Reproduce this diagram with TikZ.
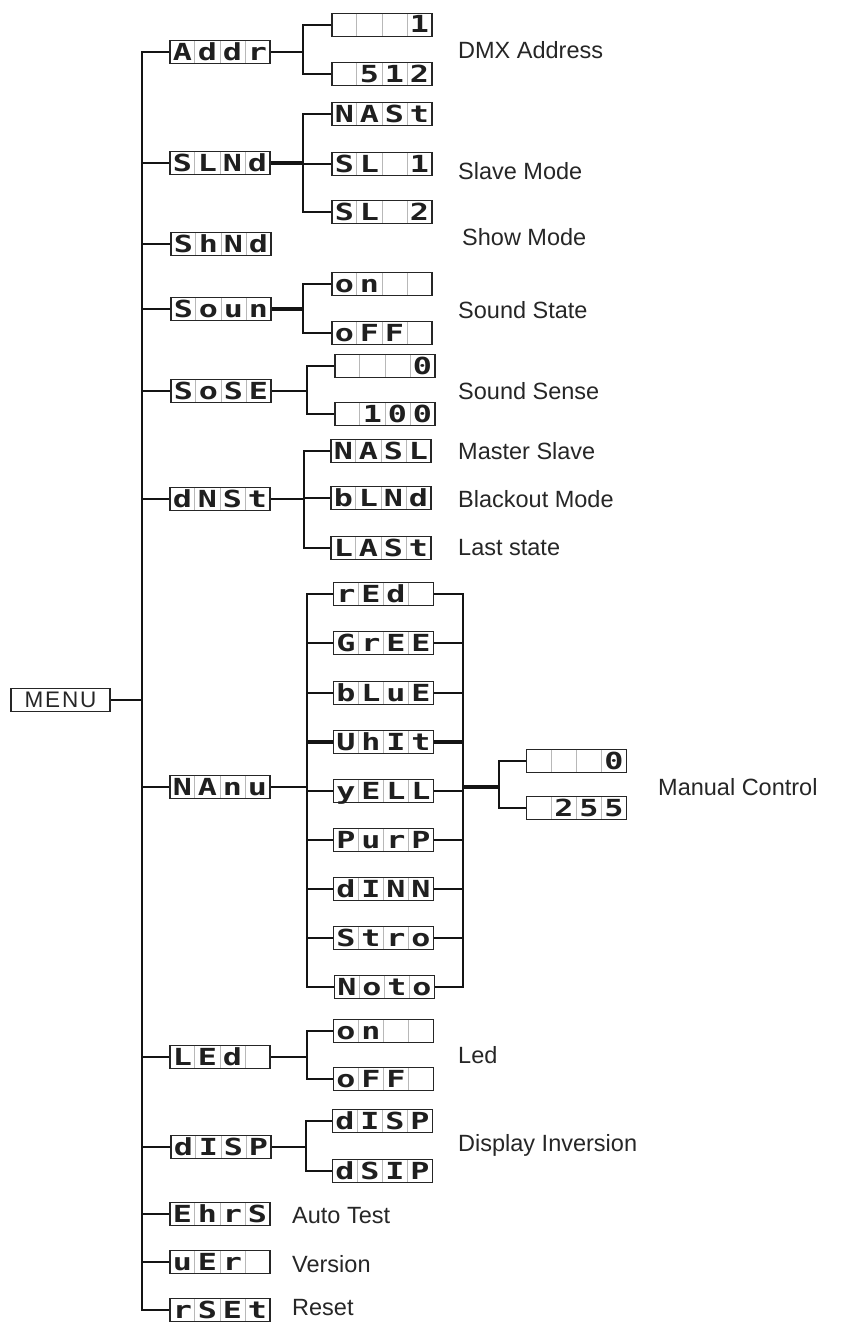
\documentclass[tikz,border=0pt]{standalone}
\usepackage{fontspec}
\setmainfont{Liberation Sans}
\newfontfamily\segfont{DejaVu Sans Mono}
\usetikzlibrary{calc}
\tikzset{
  disp/.style={draw=black!85, line width=1.3pt, minimum width=100pt, inner sep=0pt, fill=white,
    text height=19.5pt, text depth=3.5pt, text=black!88, font=\segfont\bfseries\fontsize{23.5}{23.5}\selectfont},
  menubox/.style={draw=black!85, line width=1.3pt, minimum width=99pt, minimum height=23pt, inner sep=0pt,
    font=\fontsize{22.5}{22.5}\selectfont\addfontfeature{LetterSpace=8}, text=black!85},
  conn/.style={line width=2.7pt, draw=black!92},
  thickconn/.style={line width=4.2pt, draw=black!92},
  lbl/.style={anchor=west, inner sep=0pt, font=\fontsize{23.5}{24}\selectfont, text=black!85},
  divider/.style={draw=black!28, line width=1pt},
}
\newcommand\segcell[1]{\makebox[25pt][c]{\scalebox{1.35}[1]{#1}}}
\newcommand\dbox[6]{%
  \node[disp] (#1) at (#2) {\segcell{#3}\segcell{#4}\segcell{#5}\segcell{#6}};
  \foreach \k in {1,2,3}{\draw[divider] ($(#1.north west)!\k/4!(#1.north east)+(0,1)$) -- ($(#1.south west)!\k/4!(#1.south east)+(0,-1)$);}%
}
\begin{document}
\begin{tikzpicture}[x=1pt,y=-1pt]
\useasboundingbox (0,0) rectangle (845,1322);

% root
\node[menubox] (menu) at (60.5,700) {MENU};

% level 1
\dbox{Addr}{220,52}{A}{d}{d}{r}
\dbox{SLNd}{220,163}{S}{L}{N}{d}
\dbox{ShNd}{221,244}{S}{h}{N}{d}
\dbox{Soun}{221,309}{S}{o}{u}{n}
\dbox{SoSE}{221,391}{S}{o}{S}{E}
\dbox{dNSt}{220,499}{d}{N}{S}{t}
\dbox{NAnu}{220,787}{N}{A}{n}{u}
\dbox{LEd}{220,1057}{L}{E}{d}{}
\dbox{dISP}{221,1147}{d}{I}{S}{P}
\dbox{EhrS}{220,1214}{E}{h}{r}{S}
\dbox{uEr}{220,1262}{u}{E}{r}{}
\dbox{rSEt}{220,1310}{r}{S}{E}{t}

% level 2
\dbox{a1}{382,25}{}{}{}{1}
\dbox{a2}{382,74}{}{5}{1}{2}
\dbox{s1}{382,114}{N}{A}{S}{t}
\dbox{s2}{382,164}{S}{L}{}{1}
\dbox{s3}{382,212}{S}{L}{}{2}
\dbox{so1}{382,284}{o}{n}{}{}
\dbox{so2}{382,333}{o}{F}{F}{}
\dbox{se1}{385,366}{}{}{}{0}
\dbox{se2}{385,414}{}{1}{0}{0}
\dbox{d1}{381,451}{N}{A}{S}{L}
\dbox{d2}{381,498}{b}{L}{N}{d}
\dbox{d3}{381,548}{L}{A}{S}{t}
\dbox{r1}{383.5,594}{r}{E}{d}{}
\dbox{r2}{383.5,643}{G}{r}{E}{E}
\dbox{r3}{383.5,693}{b}{L}{u}{E}
\dbox{r4}{383.5,742}{U}{h}{I}{t}
\dbox{r5}{383.5,791}{y}{E}{L}{L}
\dbox{r6}{383.5,840}{P}{u}{r}{P}
\dbox{r7}{383.5,889}{d}{I}{N}{N}
\dbox{r8}{383.5,938}{S}{t}{r}{o}
\dbox{r9}{384.5,987}{N}{o}{t}{o}
\dbox{l1}{383.5,1031}{o}{n}{}{}
\dbox{l2}{383.5,1079}{o}{F}{F}{}
\dbox{i1}{382.5,1121}{d}{I}{S}{P}
\dbox{i2}{382.5,1171}{d}{S}{I}{P}

% level 3
\dbox{m1}{576.5,761}{}{}{}{0}
\dbox{m2}{576.5,808}{}{2}{5}{5}

% coordinates of junctions
\coordinate (mbot) at (142,1310);
\coordinate (bA) at (303,52);
\coordinate (bS) at (303,163);
\coordinate (bSo) at (303,309);
\coordinate (bSe) at (307,391);
\coordinate (bD) at (304,499);
\coordinate (rl) at (307,787);
\coordinate (rr) at (463,787);
\coordinate (bM) at (499,787);
\coordinate (bL) at (307,1057);
\coordinate (bI) at (306,1147);

% main spine
\draw[conn] (Addr.west) -| (mbot) -- (rSEt.west);
\foreach \n in {SLNd,ShNd,Soun,SoSE,dNSt,NAnu,LEd,dISP,EhrS,uEr}{\draw[conn] (\n.west) -- (\n.west -| mbot);}
\draw[conn] (menu.east) -- (menu.east -| mbot);

% branches
\draw[conn] (Addr.east) -- (bA);
\draw[conn] (a1.west) -| (bA) |- (a2.west);
\draw[thickconn] (SLNd.east) -- (bS);
\draw[conn] (s1.west) -| (bS) |- (s3.west);
\draw[conn] (s2.west) -- (s2.west -| bS);
\draw[thickconn] (Soun.east) -- (bSo);
\draw[conn] (so1.west) -| (bSo) |- (so2.west);
\draw[conn] (SoSE.east) -- (bSe);
\draw[conn] (se1.west) -| (bSe) |- (se2.west);
\draw[conn] (dNSt.east) -- (bD);
\draw[conn] (d1.west) -| (bD) |- (d3.west);
\draw[conn] (d2.west) -- (d2.west -| bD);

% manual rack
\draw[conn] (NAnu.east) -- (rl);
\draw[conn] (r1.west) -| (rl) |- (r9.west);
\draw[conn] (r1.east) -| (rr) |- (r9.east);
\foreach \n in {r2,r3,r5,r6,r7,r8}{\draw[conn] (\n.west) -- (\n.west -| rl); \draw[conn] (\n.east) -- (\n.east -| rr);}
\draw[thickconn] (r4.west) -- (r4.west -| rl);
\draw[thickconn] (r4.east) -- (r4.east -| rr);
\draw[thickconn] (rr) -- (bM);
\draw[conn] (m1.west) -| (bM) |- (m2.west);

% led, display
\draw[conn] (LEd.east) -- (bL);
\draw[conn] (l1.west) -| (bL) |- (l2.west);
\draw[conn] (dISP.east) -- (bI);
\draw[conn] (i1.west) -| (bI) |- (i2.west);

% labels
\node[lbl] (t1) at (458,50) {DMX Address};
\node[lbl] (t2) at (458,171) {Slave Mode};
\node[lbl] (t3) at (462,237) {Show Mode};
\node[lbl] (t4) at (458,310) {Sound State};
\node[lbl] (t5) at (458,391) {Sound Sense};
\node[lbl] (t6) at (458,451) {Master Slave};
\node[lbl] (t7) at (458,499) {Blackout Mode};
\node[lbl] (t8) at (458,548) {Last state};
\node[lbl] (t9) at (658,787) {Manual Control};
\node[lbl] (t10) at (458,1055) {Led};
\node[lbl] (t11) at (458,1145) {Display Inversion};
\node[lbl] (t12) at (292,1216) {Auto Test};
\node[lbl] (t13) at (292,1264) {Version};
\node[lbl] (t14) at (292,1308) {Reset};
\end{tikzpicture}
\end{document}
